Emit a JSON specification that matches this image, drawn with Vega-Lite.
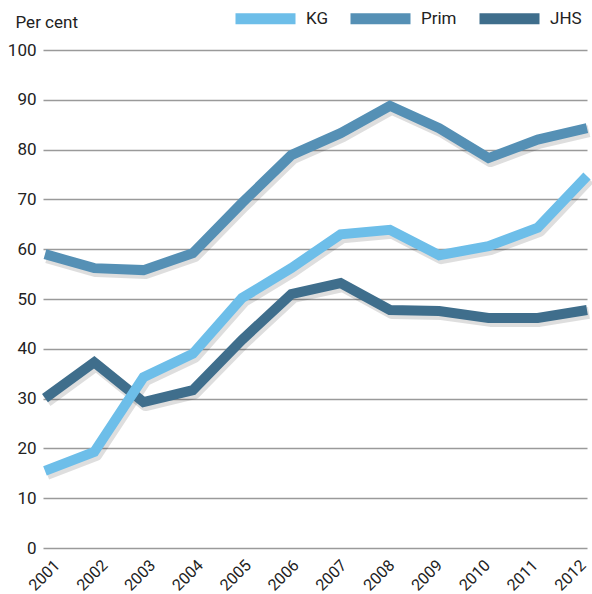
{
  "$schema": "https://vega.github.io/schema/vega-lite/v6.json",
  "autosize": "none",
  "width": 544,
  "height": 498,
  "padding": {"left": 43, "top": 50, "right": 5, "bottom": 46},
  "background": "white",
  "config": {
    "view": {"stroke": null},
    "font": "Roboto"
  },
  "data": {
    "values": [
      {"year": 2001, "series": "JHS", "value": 30.1},
      {"year": 2002, "series": "JHS", "value": 37.3},
      {"year": 2003, "series": "JHS", "value": 29.3},
      {"year": 2004, "series": "JHS", "value": 31.7},
      {"year": 2005, "series": "JHS", "value": 41.8},
      {"year": 2006, "series": "JHS", "value": 51.0},
      {"year": 2007, "series": "JHS", "value": 53.2},
      {"year": 2008, "series": "JHS", "value": 47.8},
      {"year": 2009, "series": "JHS", "value": 47.6},
      {"year": 2010, "series": "JHS", "value": 46.2},
      {"year": 2011, "series": "JHS", "value": 46.2},
      {"year": 2012, "series": "JHS", "value": 47.8},
      {"year": 2001, "series": "Prim", "value": 59.0},
      {"year": 2002, "series": "Prim", "value": 56.2},
      {"year": 2003, "series": "Prim", "value": 55.8},
      {"year": 2004, "series": "Prim", "value": 59.2},
      {"year": 2005, "series": "Prim", "value": 69.3},
      {"year": 2006, "series": "Prim", "value": 78.9},
      {"year": 2007, "series": "Prim", "value": 83.3},
      {"year": 2008, "series": "Prim", "value": 88.8},
      {"year": 2009, "series": "Prim", "value": 84.3},
      {"year": 2010, "series": "Prim", "value": 78.3},
      {"year": 2011, "series": "Prim", "value": 82.0},
      {"year": 2012, "series": "Prim", "value": 84.3},
      {"year": 2001, "series": "KG", "value": 15.5},
      {"year": 2002, "series": "KG", "value": 19.3},
      {"year": 2003, "series": "KG", "value": 34.3},
      {"year": 2004, "series": "KG", "value": 39.0},
      {"year": 2005, "series": "KG", "value": 50.2},
      {"year": 2006, "series": "KG", "value": 56.2},
      {"year": 2007, "series": "KG", "value": 63.0},
      {"year": 2008, "series": "KG", "value": 63.9},
      {"year": 2009, "series": "KG", "value": 58.8},
      {"year": 2010, "series": "KG", "value": 60.6},
      {"year": 2011, "series": "KG", "value": 64.3},
      {"year": 2012, "series": "KG", "value": 74.7}
    ]
  },
  "layer": [
    {
      "mark": {"type": "line", "strokeWidth": 12, "strokeJoin": "round", "strokeCap": "butt", "color": "#000000", "opacity": 0.13},
      "encoding": {
        "x": {"field": "year", "type": "quantitative", "scale": {"domain": [2000.92, 2011.96], "nice": false, "zero": false}, "axis": null},
        "y": {"field": "value", "type": "quantitative", "scale": {"domain": [0.6, 100.6], "nice": false, "zero": false}, "axis": null},
        "detail": {"field": "series", "type": "nominal"}
      }
    },
    {
      "mark": {"type": "line", "strokeWidth": 10, "strokeJoin": "miter", "strokeCap": "butt"},
      "encoding": {
        "x": {"field": "year", "type": "quantitative", "scale": {"domain": [2000.96, 2012], "nice": false, "zero": false}, "axis": null},
        "y": {
          "field": "value",
          "type": "quantitative",
          "scale": {"domain": [0, 100], "nice": false},
          "axis": {
            "orient": "left",
            "values": [0, 10, 20, 30, 40, 50, 60, 70, 80, 90, 100],
            "title": "Per cent",
            "titleAngle": 0,
            "titleAlign": "left",
            "titleBaseline": "alphabetic",
            "titleX": -28,
            "titleY": -23,
            "titleFontSize": 17,
            "titleFontWeight": "normal",
            "titleColor": "#222222",
            "grid": true,
            "gridColor": "#9a9a9a",
            "gridWidth": 1.5,
            "domain": false,
            "ticks": false,
            "labelPadding": 7,
            "labelFontSize": 17,
            "labelColor": "#222222"
          }
        },
        "color": {
          "field": "series",
          "type": "nominal",
          "scale": {"domain": ["KG", "Prim", "JHS"], "range": ["#6dbee9", "#5590b5", "#3f6e8c"]},
          "legend": {
            "title": null,
            "orient": "none",
            "legendX": 187,
            "legendY": -67,
            "direction": "horizontal",
            "gridAlign": "each",
            "symbolType": "stroke",
            "symbolSize": 3600,
            "symbolStrokeWidth": 11,
            "labelFontSize": 17,
            "labelColor": "#222222",
            "labelOffset": 5,
            "columnPadding": 0
          }
        }
      }
    },
    {
      "mark": {"type": "point", "opacity": 0},
      "encoding": {
        "x": {
          "field": "year",
          "type": "quantitative",
          "scale": {"domain": [2000.979, 2012.355], "nice": false, "zero": false},
          "axis": {
            "orient": "bottom",
            "values": [2001, 2002, 2003, 2004, 2005, 2006, 2007, 2008, 2009, 2010, 2011, 2012],
            "format": "d",
            "title": null,
            "grid": false,
            "domain": false,
            "ticks": false,
            "labelAngle": -45,
            "labelAlign": "center",
            "labelBaseline": "middle",
            "labelPadding": 27,
            "labelFontSize": 16,
            "labelColor": "#222222",
            "labelOverlap": false,
            "labelBound": false,
            "labelFlush": false
          }
        },
        "y": {"field": "value", "type": "quantitative", "scale": {"domain": [0, 100], "nice": false}, "axis": null}
      }
    }
  ],
  "resolve": {"scale": {"x": "independent", "y": "independent"}, "axis": {"x": "independent", "y": "independent"}}
}
